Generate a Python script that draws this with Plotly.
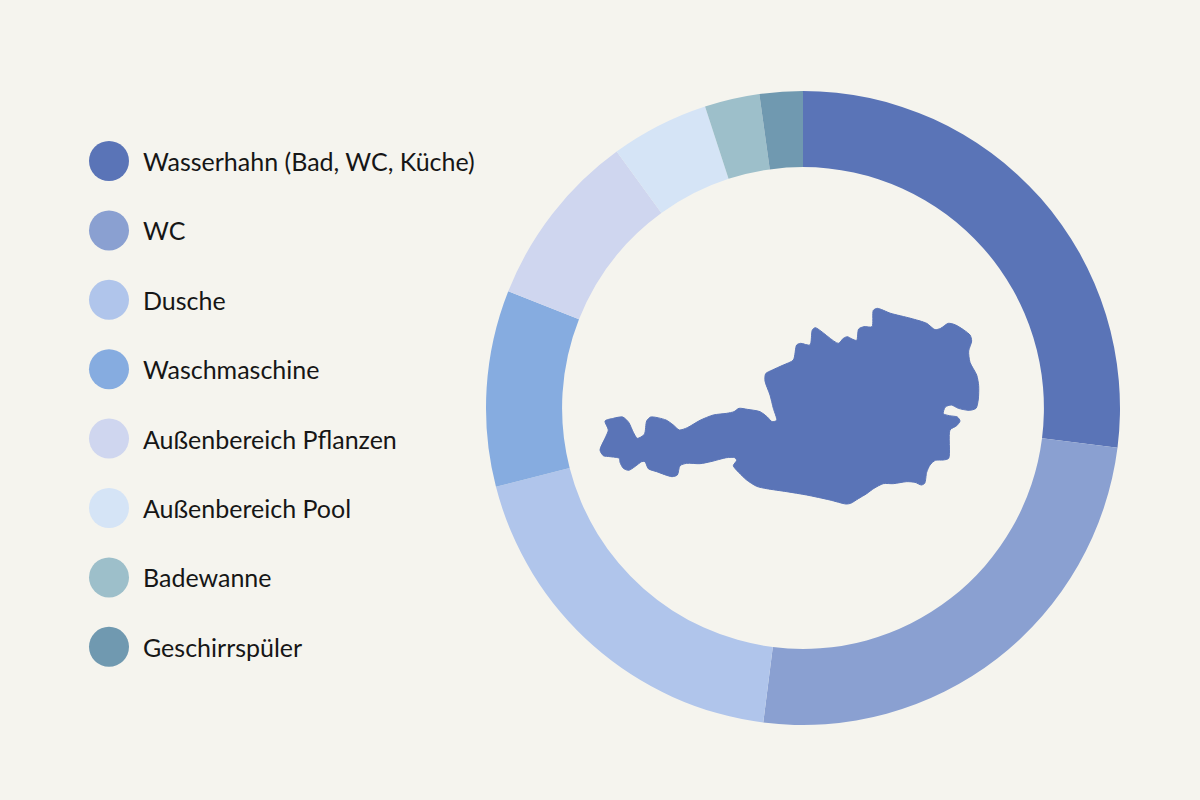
import plotly.graph_objects as go

# ---- data ----
categories = [
    "Wasserhahn (Bad, WC, Küche)",
    "WC",
    "Dusche",
    "Waschmaschine",
    "Außenbereich Pflanzen",
    "Außenbereich Pool",
    "Badewanne",
    "Geschirrspüler",
]
shares = [27, 25, 19, 10, 9, 5, 2.8, 2.2]
colors = ["#5a74b7", "#8aa0d1", "#b0c5eb", "#86ace0",
          "#cfd6ef", "#d5e4f6", "#9dbfca", "#7099b0"]

# Austria silhouette outline (decorative), traced in a 3x zoom frame
map_outline_zoom = [
    (30, 465), (45, 430), (55, 405), (45, 378), (70, 370), (98, 366), (116, 382),
    (130, 412), (142, 430), (163, 418), (170, 378), (182, 366), (228, 375),
    (250, 390), (268, 405), (292, 398), (330, 376), (370, 360), (410, 355),
    (432, 350), (447, 340), (472, 343), (510, 350), (532, 366), (546, 380),
    (560, 376), (550, 340), (540, 300), (525, 258), (527, 236), (547, 225),
    (580, 210), (610, 195), (620, 150), (632, 145), (660, 150), (667, 105),
    (676, 98), (745, 145), (760, 130), (772, 125), (786, 132), (800, 136),
    (806, 102), (822, 95), (846, 95), (850, 46), (862, 40), (902, 55),
    (962, 70), (1010, 85), (1035, 104), (1052, 100), (1075, 85), (1097, 90),
    (1140, 120), (1145, 138), (1136, 168), (1140, 202), (1160, 240),
    (1166, 272), (1165, 312), (1158, 340), (1138, 346), (1105, 340),
    (1084, 330), (1066, 336), (1060, 356), (1078, 362), (1102, 366),
    (1110, 378), (1100, 392), (1080, 405), (1076, 490), (1060, 495),
    (1036, 496), (1020, 510), (1010, 532), (1004, 565), (994, 570),
    (975, 562), (950, 560), (910, 566), (880, 566), (852, 580), (830, 596),
    (805, 611), (782, 625), (768, 627), (720, 615), (650, 600), (590, 590),
    (530, 581), (500, 574), (470, 555), (446, 532), (430, 512), (440, 496),
    (434, 488), (410, 488), (362, 500), (330, 506), (290, 505), (270, 512),
    (262, 540), (246, 545), (200, 530), (175, 521), (165, 500), (155, 500),
    (136, 514), (116, 526), (100, 520), (90, 502), (88, 490), (60, 485),
    (40, 482), (30, 465),
]

BG = "#f5f4ee"
W, H = 1200, 800

fig = go.Figure()

# donut
fig.add_trace(go.Pie(
    labels=categories,
    values=shares,
    marker=dict(colors=colors, line=dict(width=0)),
    hole=0.76,
    sort=False,
    direction="clockwise",
    rotation=0,
    textinfo="none",
    showlegend=False,
    domain=dict(x=[486 / W, 1120 / W], y=[1 - 725 / H, 1 - 91 / H]),
))

# map of Austria in the donut hole
mx = [590 + p[0] / 3 for p in map_outline_zoom]
my = [295 + p[1] / 3 for p in map_outline_zoom]
fig.add_trace(go.Scatter(
    x=mx, y=my, mode="lines", fill="toself",
    fillcolor="#5a74b7",
    line=dict(color="#5a74b7", width=1, shape="spline", smoothing=0.7),
    hoverinfo="skip", showlegend=False,
))

# custom legend
row0, row_gap = 161, 69.4
ys = [row0 + i * row_gap for i in range(len(categories))]
fig.add_trace(go.Scatter(
    x=[109] * len(categories), y=ys, mode="markers",
    marker=dict(size=40, color=colors, line=dict(width=0)),
    text=categories, hoverinfo="text", showlegend=False,
))
for cat, y in zip(categories, ys):
    fig.add_annotation(
        x=141, y=y, xref="x", yref="y", text=cat, showarrow=False,
        xanchor="left", yanchor="middle",
        font=dict(family="Lato, Open Sans, sans-serif", size=25, color="#161616"),
    )

fig.update_layout(
    width=W, height=H,
    paper_bgcolor=BG, plot_bgcolor=BG,
    margin=dict(l=0, r=0, t=0, b=0),
    xaxis=dict(range=[0, W], visible=False, fixedrange=True),
    yaxis=dict(range=[H, 0], visible=False, fixedrange=True),
    showlegend=False,
)

fig.write_html(
    "out.html",
    config={"displayModeBar": False},
    post_script="document.body.style.margin='0';document.body.style.background='%s';" % BG,
)
